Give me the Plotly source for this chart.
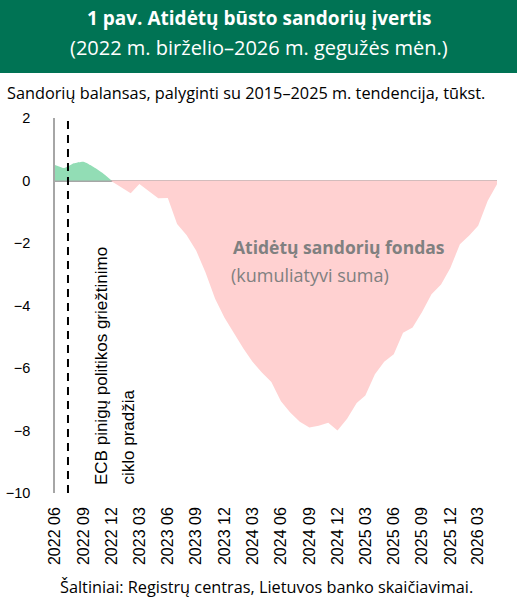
import pandas as pd
import plotly.graph_objects as go

# monthly data, 2022 06 .. 2026 05
months = pd.date_range("2022-06-01", "2026-05-01", freq="MS")
balance = [0.5, 0.4, 0.55, 0.6, 0.45, 0.25, -0.02, -0.22, -0.41, -0.11,
           -0.35, -0.57, -0.56, -1.39, -1.75, -2.25, -2.94, -3.78, -4.38, -4.9,
           -5.38, -5.8, -6.15, -6.45, -7.06, -7.42, -7.72, -7.9, -7.85, -7.75,
           -8.0, -7.62, -7.12, -6.88, -6.2, -5.8, -5.56, -4.87, -4.7, -4.2,
           -3.64, -3.33, -2.8, -2.04, -1.75, -1.45, -0.65, -0.12]
ecb_start = "2022-07-13"
y_ticks = [2, 0, -2, -4, -6, -8, -10]

W, H = 517, 603
L, R, T, B = 55, 20, 118, 110
pw, ph = W - L - R, H - T - B


def px(x):
    return (x - L) / pw


def py(y):
    return 1 - (y - T) / ph


pos = [max(v, 0) for v in balance]
neg = [min(v, 0) for v in balance]

fig = go.Figure()
fig.add_trace(go.Scatter(x=months[:7], y=pos[:7], mode="lines", fill="tozeroy",
                         line=dict(width=0, shape="spline", smoothing=0.5),
                         fillcolor="#92DDB5", hoverinfo="skip"))
fig.add_trace(go.Scatter(x=months[6:], y=neg[6:], mode="lines", fill="tozeroy",
                         line=dict(width=0), fillcolor="#FFD1D1", hoverinfo="skip"))

fig.add_shape(type="line", x0=ecb_start, x1=ecb_start, y0=-10, y1=2,
              line=dict(color="black", width=2, dash="8px,6px"))

# green header band
fig.add_shape(type="rect", xref="paper", yref="paper", x0=px(0), x1=px(W),
              y0=py(73), y1=py(0), fillcolor="#007354", line_width=0, layer="below")

sans = "Open Sans"
ann = [
    dict(text="<b>1 pav. Atidėtų būsto sandorių įvertis</b>", x=px(W / 2), y=py(18),
         font=dict(size=19, color="white", family=sans)),
    dict(text="(2022 m. birželio–2026 m. gegužės mėn.)", x=px(W / 2), y=py(48),
         font=dict(size=20, color="white", family=sans)),
    dict(text="Sandorių balansas, palyginti su 2015–2025 m. tendencija, tūkst.",
         x=px(5), y=py(93), xanchor="left",
         font=dict(size=16.3, color="black", family=sans)),
    dict(text="Šaltiniai: Registrų centras, Lietuvos banko skaičiavimai.", x=px(266), y=py(587),
         font=dict(size=16.3, color="black", family=sans)),
    dict(text="<b>Atidėtų sandorių fondas</b>", x=px(231), y=py(247), xanchor="left",
         font=dict(size=17.5, color="#808080", family=sans)),
    dict(text="(kumuliatyvi suma)", x=px(229), y=py(275), xanchor="left",
         font=dict(size=18, color="#808080", family=sans)),
    dict(text="ECB pinigų politikos griežtinimo", x=px(101), y=py(487), yanchor="bottom",
         textangle=-90, font=dict(size=17, color="black", family="Liberation Sans")),
    dict(text="ciklo pradžia", x=px(128), y=py(487), yanchor="bottom",
         textangle=-90, font=dict(size=17, color="black", family="Liberation Sans")),
]
for a in ann:
    a.setdefault("xanchor", "center")
    a.setdefault("yanchor", "middle")
    fig.add_annotation(xref="paper", yref="paper", showarrow=False, **a)

fig.update_layout(
    width=W, height=H,
    margin=dict(l=L, r=R, t=T, b=B),
    plot_bgcolor="white", paper_bgcolor="white",
    showlegend=False,
    font=dict(family="Liberation Sans", size=15, color="black"),
)
fig.update_xaxes(range=[months[0], months[-1]], tick0="2022-06-01", dtick="M3",
                 tickformat="%Y %m", tickangle=-90, showgrid=False, ticks="",
                 ticklabelstandoff=10, tickfont=dict(size=16), automargin=False)
fig.update_yaxes(range=[-10, 2], tickvals=y_ticks,
                 ticktext=[str(v).replace("-", "\u2212") for v in y_ticks],
                 showgrid=False, showline=True,
                 linecolor="#A6A6A6", linewidth=1.5, zeroline=True,
                 zerolinecolor="#A6A6A6", zerolinewidth=1.5, ticks="",
                 ticklabelstandoff=20, layer="above traces", tickfont=dict(size=14.5),
                 automargin=False)

fig.write_html("out.html", config={"displayModeBar": False},
               post_script="document.body.style.margin='0px';")
